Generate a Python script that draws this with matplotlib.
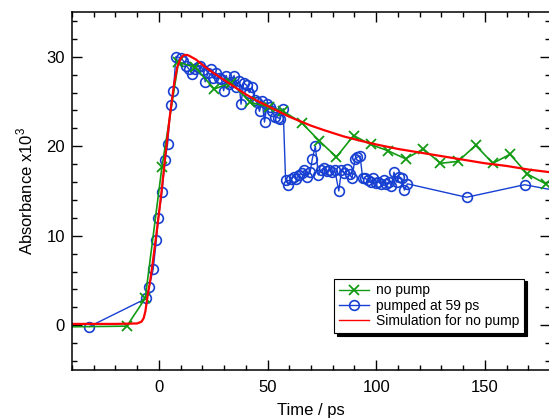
import matplotlib
matplotlib.use("Agg")
import matplotlib.pyplot as plt
from matplotlib.ticker import MultipleLocator

plt.rcParams['font.family'] = ['Liberation Sans', 'DejaVu Sans']
plt.rcParams['mathtext.fontset'] = 'custom'
plt.rcParams['mathtext.rm'] = 'Liberation Sans'

# no pump (green crosses)
t_nopump = [-50, -14.8, -6.3, 1.4, 9.0, 16.7, 25.5, 33.2, 42.1, 50.5, 57.3, 65.8,
            73.8, 81.7, 89.6, 97.4, 105.4, 113.5, 121.7, 129.6, 137.6, 145.8,
            153.7, 161.6, 169.6, 178.0]
a_nopump = [-0.2, -0.1, 3.0, 17.7, 29.4, 28.8, 26.4, 27.1, 24.9, 24.4, 23.9, 22.6,
            20.6, 18.8, 21.2, 20.2, 19.5, 18.6, 19.7, 18.1, 18.3, 20.1,
            18.1, 19.1, 16.9, 15.8]

# pumped at 59 ps (blue circles)
t_pumped = [-32, -5.8, -4.5, -2.6, -1.2, -0.2, 1.4, 2.9, 4.0, 5.5, 6.7, 7.8,
            10.1, 11.3, 12.6, 13.9, 15.2, 16.5, 17.8, 19.0, 20.3, 21.3, 22.6, 23.9,
            25.0, 26.4, 27.6, 28.8, 29.8, 31.0, 32.2, 33.4, 34.6, 35.6, 36.8, 37.8,
            39.0, 40.4, 41.6, 42.9, 44.0, 45.1, 46.3, 47.5, 48.6, 49.8, 51.0, 52.2,
            53.4, 54.6, 55.8, 57.2,
            58.3, 59.6, 60.8, 62.0, 63.2, 64.4, 65.8, 67.0, 68.2, 69.6, 70.6, 72.0,
            73.4, 74.6, 75.9, 77.2, 78.4, 79.6, 81.0, 82.8, 84.0, 85.4, 86.6, 87.8,
            88.9, 90.2, 91.4, 92.6, 93.8, 95.0, 96.2, 97.4, 98.6, 99.8, 101.0, 102.2,
            103.4, 104.6, 105.8, 107.0, 108.2, 109.4, 110.6, 111.8, 113.0, 114.4,
            141.6, 168.3, 186.0]
a_pumped = [-0.15, 3.0, 4.3, 6.3, 9.5, 12.0, 14.9, 18.5, 20.3, 24.6, 26.2, 30.0,
            29.9, 29.5, 29.0, 28.6, 28.1, 28.6, 28.9, 29.0, 28.5, 27.2, 28.2, 28.6,
            27.6, 28.2, 27.6, 27.5, 26.2, 27.9, 27.0, 27.2, 27.9, 26.6, 27.3, 24.7,
            27.1, 26.8, 26.0, 26.6, 25.2, 24.9, 23.9, 25.1, 22.7, 24.7, 24.4, 23.9,
            23.3, 23.2, 23.1, 24.2,
            16.2, 15.7, 16.3, 16.6, 16.3, 16.8, 17.0, 17.3, 16.6, 17.1, 18.6, 20.0,
            16.8, 17.3, 17.6, 17.2, 17.3, 17.1, 17.3, 15.0, 17.3, 17.0, 17.5, 16.9,
            16.4, 18.6, 18.8, 18.9, 16.4, 16.4, 16.2, 16.0, 16.4, 15.9, 16.0, 15.8,
            16.2, 15.8, 16.0, 15.6, 17.1, 16.0, 16.6, 16.4, 15.1, 15.8,
            14.3, 15.7, 14.9]

# simulation for no pump (red line)
t_sim = [-40, -20, -10, -8, -7, -6.2, -5.2, -4, -3, -1, 1, 3, 5, 7, 8.5, 10, 11,
         12, 13, 14, 17, 20, 25, 30, 35, 40, 45, 50, 55, 60, 65, 70, 76, 85, 93,
         100, 110, 120, 130, 140, 150, 160, 170, 180]
a_sim = [0.15, 0.15, 0.2, 0.4, 0.8, 1.6, 3.3, 5.0, 6.7, 10.5, 14.5, 19.0, 23.3,
         27.0, 28.9, 29.8, 30.1, 30.2, 30.2, 30.1, 29.7, 29.1, 28.2, 27.4, 26.6,
         25.8, 25.1, 24.5, 23.9, 23.3, 22.8, 22.3, 21.8, 21.1, 20.6, 20.2, 19.7,
         19.3, 18.9, 18.5, 18.1, 17.8, 17.4, 17.1]

green = '#139a13'
blue = '#1740d2'
red = '#ff0000'

fig = plt.figure(figsize=(5.49, 4.2), dpi=100)
ax = fig.add_axes([72 / 549, 50 / 420, 478 / 549, 358 / 420])

l2, = ax.plot(t_pumped, a_pumped, color=blue, lw=1.0, marker='o', ms=7,
              mfc='none', mec=blue, mew=1.2, label='pumped at 59 ps')
l1, = ax.plot(t_nopump, a_nopump, color=green, lw=1.2, marker='x', ms=7.5,
              mew=1.3, label='no pump')
l3, = ax.plot(t_sim, a_sim, color=red, lw=1.6, label='Simulation for no pump')

ax.set_xlim(-40, 180)
ax.set_ylim(-5, 35)
ax.xaxis.set_major_locator(MultipleLocator(50))
ax.xaxis.set_minor_locator(MultipleLocator(10))
ax.yaxis.set_major_locator(MultipleLocator(10))
ax.yaxis.set_minor_locator(MultipleLocator(2))
ax.tick_params(which='both', direction='in', top=True, right=True, width=1.0,
               labelsize=12)
ax.tick_params(which='major', length=7.2)
ax.tick_params(which='minor', length=3.6)
ax.tick_params(axis='x', pad=7)
ax.tick_params(axis='y', pad=5)
for s in ax.spines.values():
    s.set_linewidth(1.1)

ax.set_xlabel('Time / ps', fontsize=12, labelpad=6)
ax.set_ylabel('Absorbance x10$^{3}$', fontsize=12, labelpad=8)

leg = ax.legend(handles=[l1, l2, l3], loc='lower left',
                bbox_to_anchor=(0.549, 0.103), borderaxespad=0, fontsize=10,
                fancybox=False, edgecolor='black', framealpha=1,
                shadow={'color': 'black', 'alpha': 1}, numpoints=1,
                handlelength=2.15, handletextpad=0.5, labelspacing=0.1,
                borderpad=0.35)
leg.get_frame().set_linewidth(0.8)
for h in leg.legend_handles:
    h.set_linewidth(1.0)

fig.savefig('out.png', dpi=100)
